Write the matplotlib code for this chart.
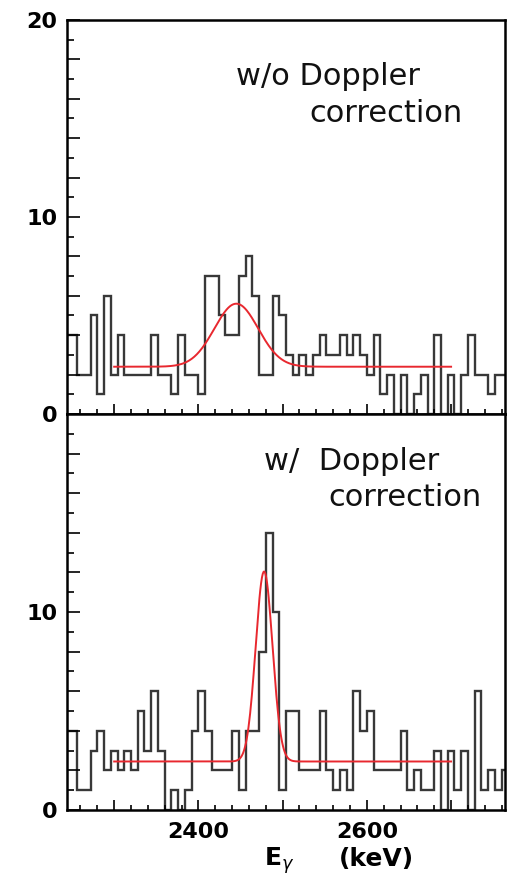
import numpy as np
import matplotlib
matplotlib.use("Agg")
import matplotlib.pyplot as plt
from matplotlib.ticker import MultipleLocator, FuncFormatter

# histogram binning (keV)
bin_start = 2240
bin_width = 8

# counts per bin
counts_without = [4, 4, 2, 2, 5, 1, 6, 2, 4, 2, 2, 2, 2, 4, 2, 2, 1, 4, 2, 2,
                  1, 7, 7, 5, 4, 4, 7, 8, 6, 2, 2, 6, 5, 3, 2, 3, 2, 3, 4, 3,
                  3, 4, 3, 4, 3, 2, 4, 1, 2, 0, 2, 0, 1, 2, 0, 4, 0, 2, 0, 2,
                  4, 2, 2, 1, 2, 2]
counts_with = [4, 4, 1, 1, 3, 4, 2, 3, 2, 3, 2, 5, 3, 6, 3, 0, 1, 0, 1, 4,
               6, 4, 2, 2, 2, 4, 1, 4, 4, 8, 14, 10, 1, 5, 5, 2, 2, 2, 5, 2,
               1, 2, 1, 6, 4, 5, 2, 2, 2, 2, 4, 1, 2, 1, 1, 3, 0, 3, 1, 3,
               0, 6, 1, 2, 1, 2]

# gaussian + constant fits: (background, amplitude, centre, sigma)
fit_without = (2.4, 3.2, 2445, 26)
fit_with = (2.45, 9.6, 2478, 10)
fit_range = (2300, 2700)

labels = [("w/o Doppler", "correction"), ("w/  Doppler", "correction")]

xlim = (2244, 2764)
ylim = (0, 20)

plt.rcParams["mathtext.fontset"] = "dejavusans"

W, H = 508, 881
fig = plt.figure(figsize=(W / 100, H / 100), dpi=100)

left, right = 67, 505
ax_top = fig.add_axes([left / W, 1 - 414 / H, (right - left) / W, (414 - 20) / H])
ax_bot = fig.add_axes([left / W, 1 - 810 / H, (right - left) / W, (810 - 414) / H])

hist_col = "#383838"
fit_col = "#e8282f"
tick_font = dict(family="DejaVu Sans", weight="bold", size=16)


def gauss(x, p):
    b, a, m, s = p
    return b + a * np.exp(-0.5 * ((x - m) / s) ** 2)


for ax, counts, fit in [(ax_top, counts_without, fit_without),
                        (ax_bot, counts_with, fit_with)]:
    edges = bin_start + bin_width * np.arange(len(counts) + 1)
    ax.stairs(counts, edges, color=hist_col, lw=1.7, baseline=None)
    xf = np.linspace(fit_range[0], fit_range[1], 400)
    ax.plot(xf, gauss(xf, fit), color=fit_col, lw=1.4)
    ax.set_xlim(*xlim)
    ax.set_ylim(*ylim)
    for s in ax.spines.values():
        s.set_linewidth(1.8)
    ax.xaxis.set_major_locator(MultipleLocator(100))
    ax.xaxis.set_minor_locator(MultipleLocator(20))
    ax.yaxis.set_major_locator(MultipleLocator(2))
    ax.yaxis.set_minor_locator(MultipleLocator(1))
    ax.tick_params(which="both", direction="in", top=False, right=False, width=1.2)
    ax.tick_params(axis="x", which="major", length=7)
    ax.tick_params(axis="x", which="minor", length=3.5)
    ax.tick_params(axis="y", which="major", length=9, pad=7)
    ax.tick_params(axis="y", which="minor", length=5)

ax_top.yaxis.set_major_formatter(FuncFormatter(lambda v, p: f"{v:.0f}" if v in (0, 10, 20) else ""))
ax_bot.yaxis.set_major_formatter(FuncFormatter(lambda v, p: f"{v:.0f}" if v in (0, 10) else ""))
ax_top.xaxis.set_major_formatter(FuncFormatter(lambda v, p: ""))
ax_bot.xaxis.set_major_formatter(FuncFormatter(lambda v, p: f"{v:.0f}" if v in (2400, 2600) else ""))
ax_bot.tick_params(axis="x", which="major", pad=9)
for ax in (ax_top, ax_bot):
    for lab in ax.get_yticklabels() + ax.get_xticklabels():
        lab.set(**tick_font)

# panel captions
txt = dict(family="DejaVu Sans", size=22, color="#111111", ha="center", va="baseline")
fig.text(328 / W, 1 - 85 / H, labels[0][0], **txt)
fig.text(386 / W, 1 - 122 / H, labels[0][1], **txt)
fig.text(352 / W, 1 - 470 / H, labels[1][0], **txt)
fig.text(405 / W, 1 - 506 / H, labels[1][1], **txt)

# axis title
fig.text(279 / W, 1 - 866 / H, r"$\mathbf{E}_{\gamma}$", size=18,
         ha="center", va="baseline")
fig.text(376 / W, 1 - 866 / H, "(keV)", family="DejaVu Sans", weight="bold",
         size=18, ha="center", va="baseline")

fig.savefig("out.png", dpi=100)
